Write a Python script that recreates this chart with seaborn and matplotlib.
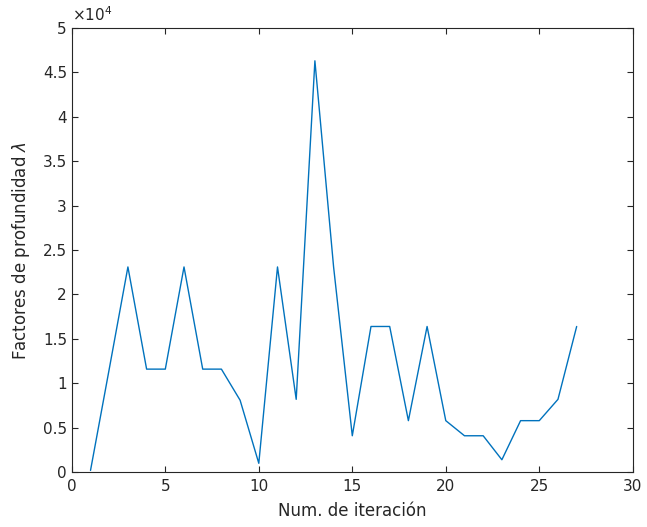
import matplotlib
matplotlib.use("Agg")
import matplotlib.pyplot as plt
import seaborn as sns
import pandas as pd
from matplotlib.ticker import FuncFormatter, MultipleLocator

iteracion = list(range(1, 28))
factores = [200, 11600, 23100, 11600, 11600, 23100, 11600, 11600, 8100, 1000,
            23100, 8200, 46300, 23100, 4100, 16400, 16400, 5800, 16400, 5800,
            4100, 4100, 1400, 5800, 5800, 8200, 16400]

df = pd.DataFrame({"iter": iteracion, "lam": factores})

sns.set_style("ticks")
plt.rcParams['font.family'] = ['DejaVu Sans']
ax_color = (0.15, 0.15, 0.15)

fig = plt.figure(figsize=(6.47, 5.27), dpi=100)
ax = fig.add_axes([0.111, 0.104, 0.867, 0.843])
sns.lineplot(data=df, x="iter", y="lam", ax=ax, color="#0072BD", linewidth=1.0)

ax.set_xlim(0, 30)
ax.set_ylim(0, 50000)
ax.xaxis.set_major_locator(MultipleLocator(5))
ax.yaxis.set_major_locator(MultipleLocator(5000))
ax.yaxis.set_major_formatter(FuncFormatter(lambda v, p: f"{v/1e4:g}"))
ax.tick_params(direction="in", top=True, right=True, colors=ax_color,
               labelsize=11, length=4, width=0.8)
ax.tick_params(axis="x", pad=5)
for s in ax.spines.values():
    s.set_visible(True)
    s.set_color(ax_color)
    s.set_linewidth(0.8)
ax.set_xlabel("Num. de iteración", fontsize=12, color=ax_color, labelpad=6)
ax.set_ylabel(r"Factores de profundidad $\lambda$", fontsize=12, color=ax_color, labelpad=8)
ax.text(0.0, 1.008, r"$\times10^{4}$", transform=ax.transAxes, fontsize=11,
        color=ax_color, ha="left", va="bottom")
ax.grid(False)

fig.savefig("out.png", dpi=100)
